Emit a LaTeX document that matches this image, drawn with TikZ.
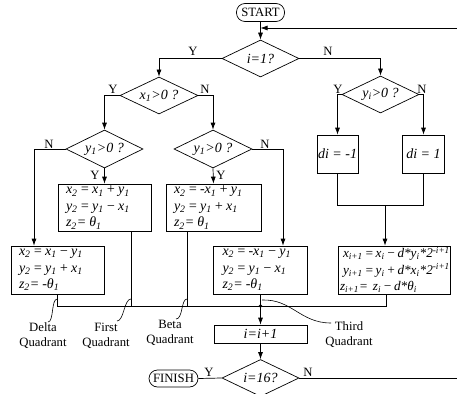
\documentclass[tikz,border=0pt]{standalone}
\usepackage{fontspec}
\setmainfont{Liberation Serif}
\usetikzlibrary{shapes.geometric,arrows.meta}
\newcommand{\ff}{\fontsize{12.7}{16.5}\selectfont}
\newcommand{\fm}{\fontsize{14}{16.5}\selectfont\itshape}
\newcommand{\fu}{\fontsize{13.2}{16.5}\selectfont\itshape}
\newcommand{\sbx}[1]{\textsubscript{#1}}
\newcommand{\spx}[1]{\textsuperscript{#1}}
\newcommand{\eq}{\hspace{2.5pt}=\hspace{2.5pt}}
\newcommand{\pl}{\hspace{2.5pt}+\hspace{2.5pt}}
\newcommand{\mi}{\hspace{2.5pt}−\hspace{2.5pt}}
\newcommand{\eqs}{\hspace{2pt}=\hspace{2pt}}
\newcommand{\pls}{\hspace{2pt}+\hspace{2pt}}
\newcommand{\mis}{\hspace{2pt}−\hspace{2pt}}
\begin{document}
\begin{tikzpicture}[x=1pt,y=-1pt,
  line width=0.7pt,
  every node/.style={font=\ff},
  arr/.style={-{Latex[length=7pt,width=5pt]}},
  dia/.style={diamond,draw,aspect=2,inner sep=0pt,minimum width=77pt,minimum height=37pt,font=\fm},
  term/.style={draw,rounded corners=8.5pt,minimum height=18pt,inner xsep=2pt,inner ysep=0pt},
  calc/.style={draw,inner xsep=8pt,inner ysep=0pt,align=left,font=\fm},
  dbox/.style={draw,inner sep=0pt,minimum width=41pt,minimum height=38pt,font=\fm},
  lab/.style={inner sep=0pt},
  qlab/.style={inner sep=0pt,align=center,font=\fontsize{12.7}{15}\selectfont},
  cur/.style={line width=0.6pt}
]
\useasboundingbox (0,0) rectangle (457,393);

% nodes
\node[term,minimum width=48pt] (start) at (260.5,12.5) {START};
\node[dia] (d1) at (260.5,58.5) {i=1?};
\node[dia,minimum width=78pt] (d2) at (159,95.5) {x\sbx{1}>0 ?};
\node[dia] (d3) at (380.5,94.5) {y\sbx{i}>0 ?};
\node[dia,minimum height=38pt] (d4) at (104.5,149) {y\sbx{1}>0 ?};
\node[dia,minimum width=78pt,minimum height=38pt] (d5) at (213,149) {y\sbx{1}>0 ?};

\node[calc,text width=77pt,minimum height=47pt] (first) at (104.5,207.5)
  {x\sbx{2}\eq x\sbx{1}\pl y\sbx{1}\\y\sbx{2}\eq y\sbx{1}\mi x\sbx{1}\\z\sbx{2}=\hspace{3pt}θ\sbx{1}};
\node[calc,text width=79pt,minimum height=47pt] (beta) at (213.5,207.5)
  {x\sbx{2}\eq -x\sbx{1}\pl y\sbx{1}\\y\sbx{2}\eq y\sbx{1}\pl x\sbx{1}\\z\sbx{2}=\hspace{3pt}θ\sbx{1}};
\node[calc,text width=77pt,minimum height=48pt] (delta) at (57.5,270)
  {x\sbx{2}\eq x\sbx{1}\mi y\sbx{1}\\y\sbx{2}\eq y\sbx{1}\pl x\sbx{1}\\z\sbx{2}=\hspace{3pt}-θ\sbx{1}};
\node[calc,inner xsep=9pt,text width=76pt,minimum height=48pt] (third) at (260.5,270)
  {x\sbx{2}\eq -x\sbx{1}\mi y\sbx{1}\\y\sbx{2}\eq y\sbx{1}\mi x\sbx{1}\\z\sbx{2}=\hspace{3pt}-θ\sbx{1}};

\node[dbox] (dm) at (337.5,154) {di = -1};
\node[dbox,minimum width=42pt] (dp) at (423.5,154) {di = 1};

\node[calc,font=\fu,inner xsep=2pt,text width=108pt,minimum height=48pt] (upd) at (394,270)
  {\mbox{\hspace{3pt}x\sbx{i+1}\eqs x\sbx{i}\mis d*y\sbx{i}*2\spx{-i+1}}\\
   \mbox{\hspace{3pt}y\sbx{i+1}\eqs y\sbx{i}\pls d*x\sbx{i}*2\spx{-i+1}}\\
   \mbox{z\sbx{i+1}=\hspace{5pt}z\sbx{i}\mis d*θ\sbx{i}}};

\node[draw,minimum width=93pt,minimum height=18pt,inner sep=0pt,font=\fm] (iinc) at (260.5,334) {i=i+1};
\node[dia] (d6) at (260.5,378) {i=16?};
\node[term,minimum width=49pt,minimum height=17pt] (finish) at (173.5,378.5) {FINISH};

% coordinates
\coordinate (top) at (260.5,28);
\coordinate (fbR) at (457,28);
\coordinate (fbB) at (457,378);
\coordinate (cN) at (34,149);
\coordinate (cT) at (283,149);
\coordinate (jn) at (385,205);
\coordinate (mg) at (260.5,306);
\coordinate (bR) at (386,306);
\coordinate (cF) at (131,306);
\coordinate (cB) at (187,306);

% connectors
\draw (start.south) -- (top);
\draw[arr] (top) -- (d1.north);
\draw[arr] (fbR) -- (top);
\draw[arr] (d1.west) -| (d2.north);
\draw[arr] (d1.east) -| (d3.north);
\draw[arr] (d2.west) -| (d4.north);
\draw[arr] (d2.east) -| (d5.north);
\draw[arr] (d3.west) -| (dm.north);
\draw[arr] (d3.east) -| (dp.north);
\draw[arr] (d4.west) -- (cN) -- (cN |- delta.north);
\draw[arr] (d4.south) -- (first.north);
\draw[arr] (d5.south) -- (beta.north);
\draw[arr] (d5.east) -- (cT) -- (cT |- third.north);
\draw (dm.south) -- (dm.south |- jn) -- (dp.south |- jn) -- (dp.south);
\draw[arr] (jn) -- (jn |- upd.north);
\draw (delta.south) |- (bR) -- (bR |- upd.south);
\draw (cF |- first.south) -- (cF);
\draw (cB |- beta.south) -- (cB);
\draw (third.south) -- (mg);
\fill (mg) circle (1.8pt);
\draw[arr] (mg) -- (iinc.north);
\draw[arr] (iinc.south) -- (d6.north);
\draw (d6.west) -- (finish.east);
\draw (d6.east) -- (fbB);

% Y/N labels
\node[lab] (y1) at (193,51.5) {Y};
\node[lab] (n1) at (328,51.5) {N};
\node[lab] (y2) at (113,89) {Y};
\node[lab] (n2) at (205,89) {N};
\node[lab] (y3) at (338,89) {Y};
\node[lab] (n3) at (422,89) {N};
\node[lab] (n4) at (49,144) {N};
\node[lab] (y4) at (95,175) {Y};
\node[lab] (n5) at (265,144) {N};
\node[lab] (y5) at (221,175) {Y};
\node[lab] (y6) at (209,372) {Y};
\node[lab] (n6) at (308,372) {N};

% quadrant labels
\node[qlab] (qd) at (43,335.5) {Delta\\Quadrant};
\node[qlab] (qf) at (106,335.5) {First\\Quadrant};
\node[qlab] (qb) at (170,333) {Beta\\Quadrant};
\node[qlab] (qt) at (349,334.5) {Third\\Quadrant};
\coordinate (pd) at (57.3,299);
\coordinate (pf) at (131,299);
\coordinate (pb) at (187,299);
\coordinate (pt) at (262,300);
\draw[cur] (pd) .. controls (51,299) and (54,322) .. (48,322);
\draw[cur] (pf) .. controls (124,299) and (124,321) .. (117,321);
\draw[cur] (pb) .. controls (181,299) and (183,319) .. (176,319);
\draw[cur] (pt) .. controls (292,299) and (300,323) .. (331,323);
\end{tikzpicture}
\end{document}
